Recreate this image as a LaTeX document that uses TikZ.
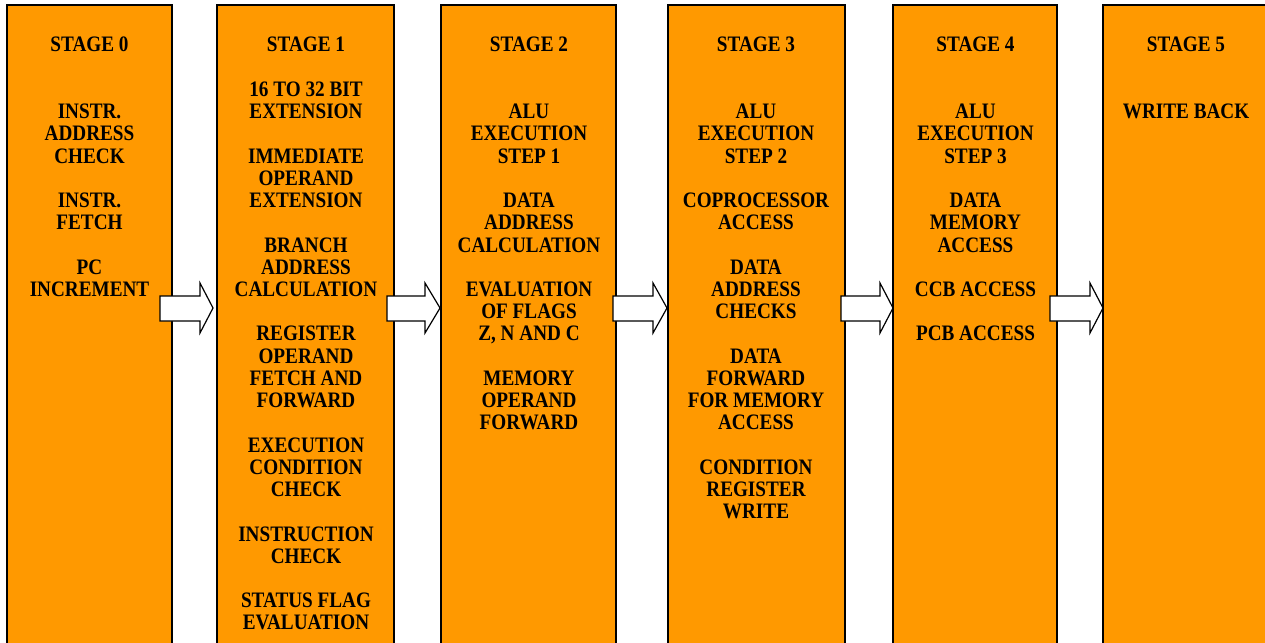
\documentclass[tikz,border=0pt]{standalone}
\usepackage{fontspec}
\setmainfont{Liberation Serif}
\usepackage{graphicx}
\definecolor{stageorange}{RGB}{255,153,0}
\tikzset{
  stagebox/.style={fill=stageorange, draw=black, line width=1.6pt},
  blockarrow/.style={fill=white, draw=black, line width=1.2pt, line join=miter},
  stagetext/.style={anchor=base, inner sep=0pt, font=\bfseries\fontsize{19.2}{19.33}\selectfont},
}
% one centred column of lines, slightly tall type
\newcommand{\stagelines}[1]{\scalebox{1}[1.15]{\begin{tabular}[t]{@{}c@{}}#1\end{tabular}}}
% block arrow: shaft start, head start, tip
\newcommand{\blockarrowat}[3]{%
  \draw[blockarrow] (#1,296) -- (#2,296) -- (#2,283) -- (#3,308) -- (#2,333) -- (#2,321) -- (#1,321) -- cycle;}
\begin{document}
\begin{tikzpicture}[x=1pt,y=-1pt]
  \useasboundingbox (0,0) rectangle (1265,642);
  \clip (0,0) rectangle (1265,642);

  % pipeline stage columns
  \draw[stagebox] (7,5) rectangle (172,660);
  \draw[stagebox] (217,5) rectangle (394,660);
  \draw[stagebox] (441,5) rectangle (616,660);
  \draw[stagebox] (668,5) rectangle (845,660);
  \draw[stagebox] (893,5) rectangle (1057,660);
  \draw[stagebox] (1103,5) rectangle (1275,660);

  % stage contents
  \node[stagetext] (s0) at (89.5,52) {\stagelines{STAGE 0\\ \\ \\ INSTR.\\ ADDRESS\\ CHECK\\ \\ INSTR.\\ FETCH\\ \\ PC\\ INCREMENT}};
  \node[stagetext] (s1) at (306,52) {\stagelines{STAGE 1\\ \\ 16 TO 32 BIT\\ EXTENSION\\ \\ IMMEDIATE\\ OPERAND\\ EXTENSION\\ \\ BRANCH\\ ADDRESS\\ CALCULATION\\ \\ REGISTER\\ OPERAND\\ FETCH AND\\ FORWARD\\ \\ EXECUTION\\ CONDITION\\ CHECK\\ \\ INSTRUCTION\\ CHECK\\ \\ STATUS FLAG\\ EVALUATION}};
  \node[stagetext] (s2) at (529,52) {\stagelines{STAGE 2\\ \\ \\ ALU\\ EXECUTION\\ STEP 1\\ \\ DATA\\ ADDRESS\\ CALCULATION\\ \\ EVALUATION\\ OF FLAGS\\ Z, N AND C\\ \\ MEMORY\\ OPERAND\\ FORWARD}};
  \node[stagetext] (s3) at (756,52) {\stagelines{STAGE 3\\ \\ \\ ALU\\ EXECUTION\\ STEP 2\\ \\ COPROCESSOR\\ ACCESS\\ \\ DATA\\ ADDRESS\\ CHECKS\\ \\ DATA\\ FORWARD\\ FOR MEMORY\\ ACCESS\\ \\ CONDITION\\ REGISTER\\ WRITE}};
  \node[stagetext] (s4) at (975.5,52) {\stagelines{STAGE 4\\ \\ \\ ALU\\ EXECUTION\\ STEP 3\\ \\ DATA\\ MEMORY\\ ACCESS\\ \\ CCB ACCESS\\ \\ PCB ACCESS}};
  \node[stagetext] (s5) at (1186,52) {\stagelines{STAGE 5\\ \\ \\ WRITE BACK}};

  % hand-over arrows between stages
  \blockarrowat{160}{200}{213}
  \blockarrowat{387}{425}{440}
  \blockarrowat{613}{653}{667}
  \blockarrowat{841}{880}{893}
  \blockarrowat{1050}{1090}{1103}
\end{tikzpicture}
\end{document}
